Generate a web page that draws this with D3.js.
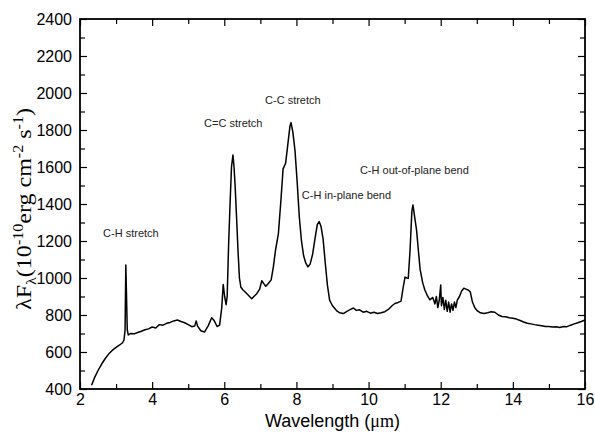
<!DOCTYPE html>
<html><head><meta charset="utf-8">
<script src="https://cdn.jsdelivr.net/npm/d3@7/dist/d3.min.js"></script>
<style>body{margin:0;background:#fff}svg{display:block}</style>
</head><body><svg id="c" width="595" height="441"></svg>
<script>
const wavelength = [2.32,2.4,2.5,2.6,2.7,2.8,2.9,3.0,3.1,3.18,3.22,3.25,3.27,3.29,3.31,3.34,3.4,3.5,3.6,3.7,3.8,3.9,4.0,4.1,4.2,4.3,4.4,4.5,4.6,4.7,4.8,4.9,5.0,5.1,5.18,5.22,5.26,5.35,5.45,5.55,5.65,5.72,5.8,5.87,5.93,5.97,6.01,6.05,6.08,6.12,6.16,6.2,6.24,6.27,6.3,6.34,6.38,6.42,6.46,6.52,6.6,6.7,6.76,6.82,6.9,6.98,7.04,7.1,7.15,7.22,7.3,7.36,7.42,7.5,7.57,7.63,7.7,7.76,7.82,7.85,7.9,7.96,8.02,8.08,8.14,8.2,8.26,8.32,8.38,8.45,8.52,8.58,8.63,8.68,8.74,8.8,8.86,8.92,9.0,9.06,9.12,9.2,9.3,9.4,9.5,9.58,9.66,9.75,9.85,9.95,10.05,10.15,10.25,10.35,10.45,10.55,10.65,10.73,10.82,10.9,10.96,11.01,11.06,11.1,11.15,11.2,11.23,11.27,11.33,11.38,11.43,11.5,11.56,11.63,11.7,11.78,11.84,11.88,11.92,11.96,12.0,12.02,12.06,12.1,12.14,12.18,12.22,12.26,12.3,12.34,12.38,12.42,12.46,12.52,12.58,12.64,12.7,12.76,12.82,12.88,12.95,13.02,13.1,13.2,13.3,13.4,13.5,13.6,13.7,13.8,13.9,14.0,14.1,14.2,14.3,14.4,14.5,14.6,14.7,14.8,14.9,15.0,15.1,15.2,15.3,15.4,15.5,15.6,15.7,15.8,15.9,16.0];
const flux = [420,460,500,535,565,590,610,625,638,650,665,720,1070,900,720,692,700,698,705,712,720,725,735,730,748,745,755,760,768,773,765,758,748,737,740,768,740,715,708,740,785,770,738,745,840,965,900,856,900,1180,1400,1600,1665,1600,1500,1330,1150,1000,950,935,920,900,888,900,915,940,985,968,955,970,990,1060,1150,1240,1420,1590,1620,1720,1820,1840,1790,1690,1520,1330,1200,1120,1080,1060,1075,1130,1220,1290,1305,1280,1210,1080,960,880,850,836,822,812,808,820,830,838,825,828,815,820,810,815,808,812,818,830,850,862,868,875,950,1005,1000,998,1150,1360,1395,1340,1260,1150,1045,975,935,905,882,895,860,900,840,880,962,850,895,830,880,820,870,815,860,825,870,840,880,900,930,945,940,935,925,870,838,822,812,808,812,818,815,800,792,790,785,782,778,770,762,755,752,748,745,742,738,738,735,737,732,738,737,745,752,758,765,773];
const xMajor = [2,4,6,8,10,12,14,16];
const xMinor = [3,5,7,9,11,13,15];
const yMajor = [400,600,800,1000,1200,1400,1600,1800,2000,2200,2400];
const yMinor = [500,700,900,1100,1300,1500,1700,1900,2100,2300];
const annotations = ["C-H stretch","C=C stretch","C-C stretch","C-H in-plane bend","C-H out-of-plane bend"];
const annotationPos = [[2.64,1222],[5.44,1816],[7.13,1941],[8.15,1427],[9.76,1562]];

const svg = d3.select("#c");
const L=80,R=585,T=19,B=389;
const x = d3.scaleLinear().domain([2,16]).range([L,R]);
const y = d3.scaleLinear().domain([400,2400]).range([B,T]);
const font = "'Liberation Sans', Arial, sans-serif";

// bottom
svg.append("g").attr("transform",`translate(0,${B})`)
  .call(d3.axisBottom(x).tickValues(xMajor).tickSize(-7).tickPadding(5).tickFormat(d3.format("d")));
svg.append("g").attr("transform",`translate(0,${B})`).call(d3.axisBottom(x).tickValues(xMinor).tickSize(-5).tickFormat(""));
// top
svg.append("g").attr("transform",`translate(0,${T})`).call(d3.axisTop(x).tickValues(xMajor).tickSize(-7).tickFormat(""));
svg.append("g").attr("transform",`translate(0,${T})`).call(d3.axisTop(x).tickValues(xMinor).tickSize(-5).tickFormat(""));
// left
svg.append("g").attr("transform",`translate(${L},0)`)
  .call(d3.axisLeft(y).tickValues(yMajor).tickSize(-7).tickPadding(8).tickFormat(d3.format("d")));
svg.append("g").attr("transform",`translate(${L},0)`).call(d3.axisLeft(y).tickValues(yMinor).tickSize(-5).tickFormat(""));
// right
svg.append("g").attr("transform",`translate(${R},0)`).call(d3.axisRight(y).tickValues(yMajor).tickSize(-7).tickFormat(""));
svg.append("g").attr("transform",`translate(${R},0)`).call(d3.axisRight(y).tickValues(yMinor).tickSize(-5).tickFormat(""));
svg.selectAll(".domain").remove();
svg.selectAll(".tick line").attr("stroke","#000").attr("stroke-width",1.2);
svg.selectAll(".tick text").attr("font-family",font).attr("font-size",16).attr("fill","#000");

svg.append("rect").attr("x",L).attr("y",T).attr("width",R-L).attr("height",B-T)
  .attr("fill","none").attr("stroke","#000").attr("stroke-width",1.8);

svg.append("path").datum(wavelength.map((w,i)=>[w,flux[i]]))
  .attr("d", d3.line().x(d=>x(d[0])).y(d=>y(d[1])))
  .attr("fill","none").attr("stroke","#000").attr("stroke-width",1.5).attr("stroke-linejoin","round");

annotations.forEach((t,i)=>{
  svg.append("text").attr("x",x(annotationPos[i][0])).attr("y",y(annotationPos[i][1]))
    .attr("font-family",font).attr("font-size",11).attr("fill","#222").text(t);
});

svg.append("text").attr("x",(L+R)/2).attr("y",427).attr("text-anchor","middle")
  .attr("font-family",font).attr("font-size",18).attr("fill","#000")
  .html("Wavelength (<tspan font-family=\"'Liberation Serif', serif\">μm</tspan>)");

const yt = svg.append("text").attr("transform","translate(31,209) rotate(-90)")
  .attr("text-anchor","middle").attr("font-family","'Liberation Serif','Times New Roman',serif")
  .attr("font-size",21).attr("fill","#000").attr("textLength",202).attr("lengthAdjust","spacingAndGlyphs");
yt.append("tspan").text("λF");
yt.append("tspan").attr("font-size",14).attr("dy",5).text("λ");
yt.append("tspan").attr("dy",-5).text("(10");
yt.append("tspan").attr("font-size",14).attr("dy",-8).text("-10");
yt.append("tspan").attr("dy",8).text("erg cm");
yt.append("tspan").attr("font-size",14).attr("dy",-8).text("-2");
yt.append("tspan").attr("dy",8).text(" s");
yt.append("tspan").attr("font-size",14).attr("dy",-8).text("-1");
yt.append("tspan").attr("dy",8).text(")");
</script></body></html>
